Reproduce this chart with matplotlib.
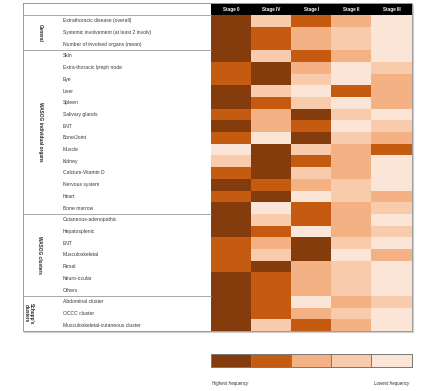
import numpy as np
import matplotlib
matplotlib.use("Agg")
import matplotlib.pyplot as plt
from matplotlib.colors import ListedColormap, BoundaryNorm

# ---------------- data ----------------
stages = ["Stage 0", "Stage IV", "Stage I", "Stage II", "Stage III"]
groups = ["General", "WASOG individual organs", "WASOG clusters", "Schupp's\nclusters"]
group_sizes = [3, 14, 7, 3]
row_labels = [
    "Extrathoracic disease (overall)",
    "Systemic involvement (at least 2 involv)",
    "Number of involved organs (mean)",
    "Skin",
    "Extra-thoracic lymph node",
    "Eye",
    "Liver",
    "Spleen",
    "Salivary glands",
    "ENT",
    "Bone/Joint",
    "Muscle",
    "Kidney",
    "Calcium-Vitamin D",
    "Nervous system",
    "Heart",
    "Bone marrow",
    "Cutaneous-adenopathic",
    "Hepatosplenic",
    "ENT",
    "Musculoskeletal",
    "Renal",
    "Neuro-ocular",
    "Others",
    "Abdominal cluster",
    "OCCC cluster",
    "Musculoskeletal-cutaneous cluster",
]
# frequency rank per row: 5 = highest frequency, 1 = lowest frequency
rank_stage0 = [5, 5, 5, 5, 4, 4, 5, 5, 4, 5, 4, 1, 2, 4, 5, 4, 5, 5, 5, 4, 4, 4, 5, 5, 5, 5, 5]
rank_stage4 = [2, 4, 4, 2, 5, 5, 2, 4, 3, 3, 1, 5, 5, 5, 4, 5, 1, 2, 4, 3, 2, 5, 4, 4, 4, 4, 2]
rank_stage1 = [4, 3, 3, 4, 3, 2, 1, 2, 5, 4, 5, 2, 4, 2, 3, 1, 4, 4, 1, 5, 5, 3, 3, 3, 1, 3, 4]
rank_stage2 = [3, 2, 2, 3, 1, 1, 4, 1, 2, 1, 2, 3, 3, 3, 2, 2, 3, 3, 3, 2, 1, 2, 2, 2, 3, 2, 3]
rank_stage3 = [1, 1, 1, 1, 2, 3, 3, 3, 1, 2, 3, 4, 1, 1, 1, 3, 2, 1, 2, 1, 3, 1, 1, 1, 2, 1, 1]
legend_levels = [5, 4, 3, 2, 1]
legend_texts = ["Highest frequency", "Lowest frequency"]
level_colors = ["#FBE5D6", "#F8CBAD", "#F4B183", "#C55A11", "#843C0C"]

# ---------------- layout (pixels) ----------------
W, H = 446, 391
fig = plt.figure(figsize=(W / 100, H / 100), dpi=100)
ax = fig.add_axes([0, 0, 1, 1])
ax.set_xlim(0, W)
ax.set_ylim(H, 0)
ax.axis("off")

plt.rcParams["font.family"] = ["Liberation Sans", "DejaVu Sans"]

TL, TR = 22.5, 411.5      # table left/right
TT, HB, TB = 3.0, 15.0, 331.0  # table top, header bottom, table bottom
HX0 = 211.0               # heatmap left
LBL_X = 63.0

cmap = ListedColormap(level_colors)
norm = BoundaryNorm(np.arange(0.5, 6.5, 1), cmap.N)

data = np.array([rank_stage0, rank_stage4, rank_stage1, rank_stage2, rank_stage3]).T
nrows = data.shape[0]
col_edges = np.linspace(HX0, TR, len(stages) + 1)
row_edges = np.linspace(HB, TB, nrows + 1)
ax.pcolormesh(col_edges, row_edges, data, cmap=cmap, norm=norm, shading="flat", zorder=2)

# header
ax.fill_between([HX0, TR], TT, HB, color="black", zorder=2, lw=0)
for i, s in enumerate(stages):
    xc = (col_edges[i] + col_edges[i + 1]) / 2
    ax.text(xc, (TT + HB) / 2 + 0.3, s, color="white", fontsize=3.3, fontweight="bold",
            ha="center", va="center", zorder=3)

# frame and shadow
frame_c = "#9a9a9a"
ax.plot([TL, TR, TR, TL, TL], [TT, TT, TB, TB, TT], color=frame_c, lw=0.7, zorder=4)
ax.plot([TR + 1.2, TR + 1.2], [TT + 1.5, TB + 1.2], color="#d0d0d0", lw=0.9, zorder=1)
ax.plot([TL + 1.5, TR + 1.2], [TB + 1.2, TB + 1.2], color="#d0d0d0", lw=0.9, zorder=1)

# header separator on left part
ax.plot([TL, HX0], [HB, HB], color=frame_c, lw=0.6, zorder=4)

# group separators and labels
start = 0
group_x = [40, 40, 40, 29]
for g, (name, n) in enumerate(zip(groups, group_sizes)):
    y0, y1 = row_edges[start], row_edges[start + n]
    if start + n < nrows:
        ax.plot([TL, HX0], [y1, y1], color=frame_c, lw=0.6, zorder=4)
    ax.text(group_x[g], (y0 + y1) / 2, name, rotation=270, fontsize=3.4, fontweight="bold",
            ha="center", va="center", color="#222222", linespacing=1.1)
    start += n

# row labels
for i, lab in enumerate(row_labels):
    yc = (row_edges[i] + row_edges[i + 1]) / 2
    ax.text(LBL_X, yc, lab, fontsize=3.65, ha="left", va="center", color="#3a3a3a")

# legend bar
LX0, LX1, LY0, LY1 = 211.0, 411.5, 354.0, 367.0
lg_edges = np.linspace(LX0, LX1, len(legend_levels) + 1)
ax.pcolormesh(lg_edges, [LY0, LY1], np.array([legend_levels]), cmap=cmap, norm=norm,
              edgecolors="#7a7a7a", linewidth=0.5, shading="flat", zorder=2)
ax.plot([LX0, LX1, LX1, LX0, LX0], [LY0, LY0, LY1, LY1, LY0], color="#7a7a7a", lw=0.6, zorder=3)
ax.text(LX0 + 1.5, 384, legend_texts[0], fontsize=3.25, style="italic", ha="left", va="center",
        color="#333333")
ax.text(LX1 - 2, 384, legend_texts[1], fontsize=3.25, style="italic", ha="right", va="center",
        color="#333333")

fig.savefig("out.png", dpi=100)
